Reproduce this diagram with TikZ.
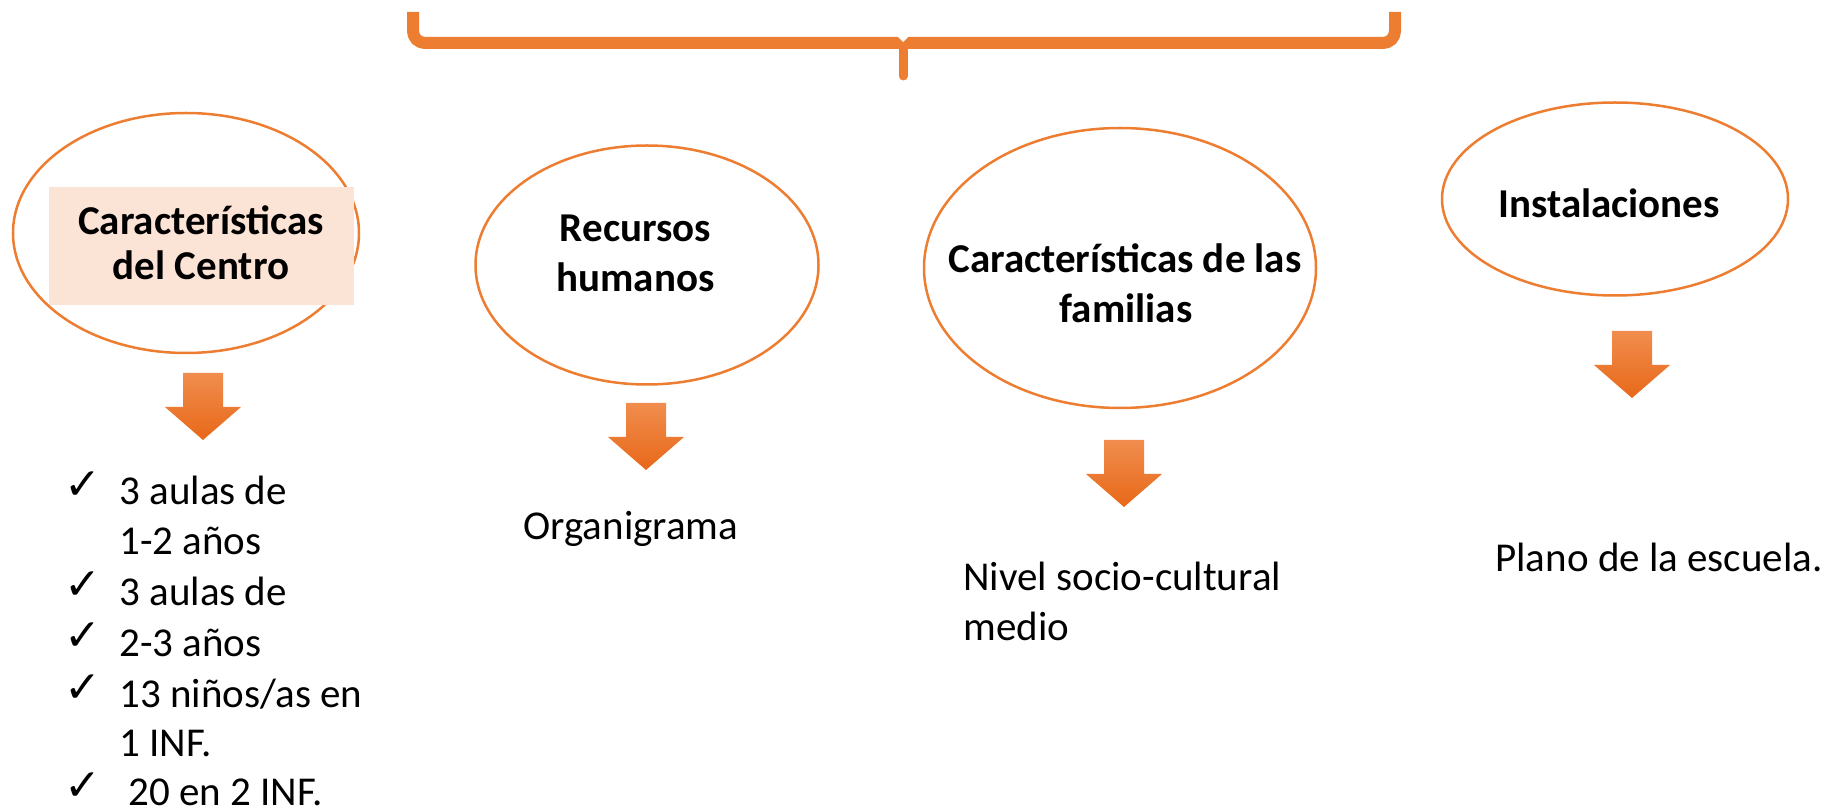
\documentclass[tikz,border=0pt]{standalone}
\usepackage{fontspec}
\setmainfont{Carlito}
\newfontfamily\dejavu{DejaVu Sans}
\usetikzlibrary{shapes.geometric}
\definecolor{brorange}{HTML}{ED7D31}
\definecolor{peach}{HTML}{FBE3D6}
\definecolor{arrtop}{HTML}{F08D4E}
\definecolor{arrbot}{HTML}{E86818}
\tikzset{
  oval/.style={ellipse, draw=brorange, line width=1.25pt, inner sep=0pt},
  title/.style={font=\fontsize{20.5}{25}\bfseries\selectfont, anchor=base, inner sep=0pt},
  body/.style={font=\fontsize{20.5}{25}\selectfont, anchor=base west, inner sep=0pt},
  tick/.style={font=\dejavu\fontsize{22}{24}\selectfont, anchor=base west, inner sep=0pt},
  blockarrow/.style={top color=arrtop, bottom color=arrbot, draw=none},
  brace/.style={draw=brorange, line width=6pt, line join=round, rounded corners=6pt},
}
\newcommand\blockdown[2]{%
  \shade[blockarrow] (#1-20,#2) -- (#1+20,#2) -- (#1+20,#2+34) -- (#1+38,#2+34)
    -- (#1,#2+67) -- (#1-38,#2+34) -- (#1-20,#2+34) -- cycle;}
\begin{document}
\begin{tikzpicture}[x=0.5pt,y=-0.5pt]
\useasboundingbox (0,0) rectangle (1838,812);
% brace
\coordinate (bl) at (413,12);
\coordinate (br) at (1395,12);
\coordinate (bm) at (903,43);
\coordinate (bt) at (903,76);
\draw[brace] (bl) -- (413,43) -- (1395,43) -- (br);
\draw[brorange, line width=4.5pt, line cap=round] (bm) -- (bt);
\fill[white] (897,36) -- (909,36) -- (903,42) -- cycle;
% ellipses
\node[oval, minimum width=173pt, minimum height=120pt] (e1) at (186,233) {};
\fill[peach] (49,187) rectangle (354,305);
\node[title] (t1a) at (201,235) {Características};
\node[title] (t1b) at (201,280) {del Centro};
\node[oval, minimum width=171.5pt, minimum height=119.5pt] (e2) at (647,265) {};
\node[title] (t2a) at (635.5,242) {Recursos};
\node[title] (t2b) at (635.5,292) {humanos};
\node[oval, minimum width=196pt, minimum height=140pt] (e3) at (1120,268) {};
\node[title] (t3a) at (1125,273) {Características de las};
\node[title] (t3b) at (1126,323) {familias};
\node[oval, minimum width=173pt, minimum height=96.5pt] (e4) at (1615,199) {};
\node[title] (t4) at (1609,218) {Instalaciones};
% arrows
\blockdown{203}{373}
\blockdown{646}{403}
\blockdown{1124}{440}
\blockdown{1632}{331}
% list
\node[tick] (k1) at (64,500) {✓};
\node[body] (l1) at (119,505) {3 aulas de};
\node[body] (l2) at (119,555) {1-2 años};
\node[tick] (k3) at (64,600) {✓};
\node[body] (l3) at (119,605) {3 aulas de};
\node[tick] (k4) at (64,651) {✓};
\node[body] (l4) at (119,656) {2-3 años};
\node[tick] (k5) at (64,702) {✓};
\node[body] (l5) at (119,707) {13 niños/as en};
\node[body] (l6) at (119,756) {1 INF.};
\node[tick, text depth=0pt] (k7) at (64,800) {✓};
\node[body, text depth=0pt] (l7) at (128,805) {20 en 2 INF.};
% other texts
\node[body] (org) at (523,540) {Organigrama};
\node[body] (niv) at (963,590) {Nivel socio-cultural};
\node[body] (med) at (963,640) {medio};
\node[body] (pla) at (1495,572) {Plano de la escuela.};
\end{tikzpicture}
\end{document}
